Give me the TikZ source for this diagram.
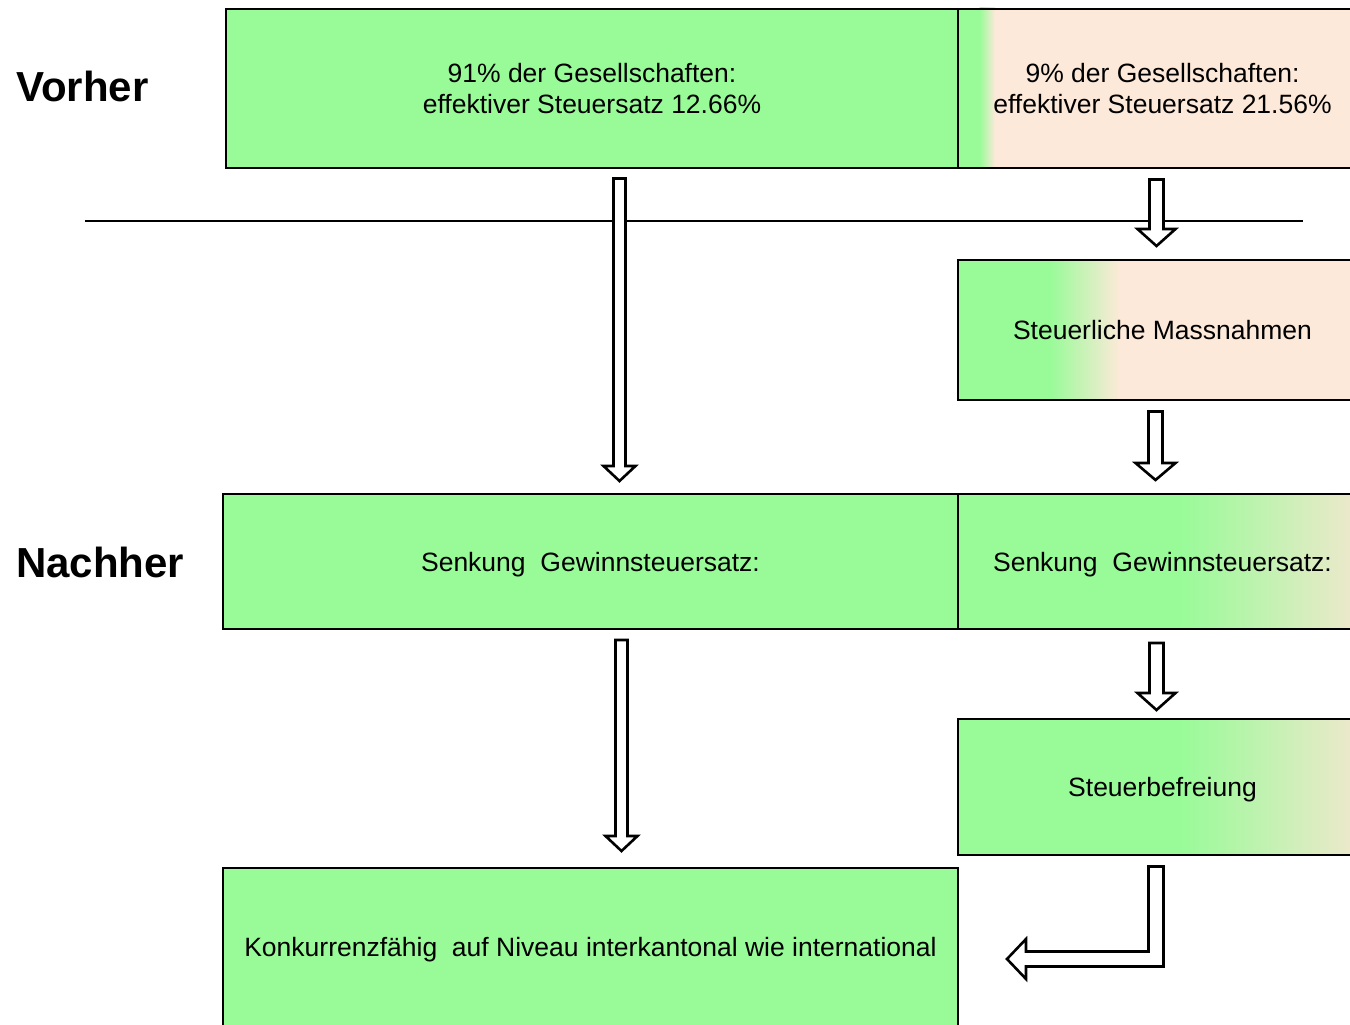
\documentclass[tikz,border=0pt]{standalone}
\usepackage{fontspec}
\setmainfont{Liberation Sans}
\usetikzlibrary{calc}
\definecolor{pgreen}{RGB}{152,251,152}
\definecolor{peach}{RGB}{253,233,217}
\definecolor{beige}{RGB}{243,231,207}
\newcommand\blockdown[5]{% start, tip, shaft half, head half, head length
  \draw[blockarrow] ($(#1)+(-#3,0)$) -- ($(#1)+(#3,0)$) -- ($(#2)+(#3,-#5)$) -- ($(#2)+(#4,-#5)$) -- (#2)
    -- ($(#2)+(-#4,-#5)$) -- ($(#2)+(-#3,-#5)$) -- cycle;}
\begin{document}
\begin{tikzpicture}[x=1pt,y=-1pt,
  box/.style={draw=black, line width=2pt, anchor=north west, inner sep=0pt,
    font=\fontsize{26.5}{31}\selectfont, align=center},
  oneline/.style={text depth=0pt},
  blockarrow/.style={draw=black, fill=white, line width=2.6pt, line join=miter},
  sidelabel/.style={font=\fontsize{42}{48}\selectfont\bfseries, anchor=base west, inner sep=0pt}]
\useasboundingbox (0,0) rectangle (1350,1025);
\fill[white] (0,0) rectangle (1350,1025);

% backgrounds
\fill[pgreen] (225,8) rectangle (957,167);
\fill[pgreen] (957,8) rectangle (980,167);
\shade[left color=pgreen, right color=peach] (979.5,8) rectangle (995,167);
\fill[peach] (994.5,8) rectangle (1366,167);

\fill[pgreen] (957,259) rectangle (1050,399);
\shade[left color=pgreen, right color=peach] (1049.5,259) rectangle (1120,399);
\fill[peach] (1119.5,259) rectangle (1366,399);

\fill[pgreen] (222,493) rectangle (957,628);
\fill[pgreen] (957,493) rectangle (1180,628);
\shade[left color=pgreen, right color=beige] (1179.5,493) rectangle (1366,628);

\fill[pgreen] (957,718) rectangle (1180,854);
\shade[left color=pgreen, right color=beige] (1179.5,718) rectangle (1366,854);

\fill[pgreen] (222,867) rectangle (957,1030);

% divider line
\coordinate (l1) at (85,221);
\coordinate (l2) at (1303,221);
\draw[line width=2.5pt] (l1) -- (l2);

% boxes
\node[box, minimum width=732pt, minimum height=159pt] (v1) at (225,8)
  {91\% der Gesellschaften:\\effektiver Steuersatz 12.66\%};
\node[box, minimum width=409pt, minimum height=159pt] (v2) at (957,8)
  {9\% der Gesellschaften:\\effektiver Steuersatz 21.56\%};
\node[box, minimum width=409pt, minimum height=140pt] (m) at (957,259)
  {Steuerliche Massnahmen};
\node[box, oneline, minimum width=735pt, minimum height=135pt] (n1) at (222,493)
  {Senkung\ \ Gewinnsteuersatz:};
\node[box, oneline, minimum width=409pt, minimum height=135pt] (n2) at (957,493)
  {Senkung\ \ Gewinnsteuersatz:};
\node[box, oneline, minimum width=409pt, minimum height=136pt] (sb) at (957,718)
  {Steuerbefreiung};
\node[box, minimum width=735pt, minimum height=163pt] (k) at (222,867)
  {Konkurrenzfähig\ \ auf Niveau interkantonal wie international};

% side labels
\node[sidelabel] (vorher) at (16,102) {Vorher};
\node[sidelabel] (nachher) at (16,577) {Nachher};

% block arrows
\coordinate (a1s) at (619.5,178.5); \coordinate (a1e) at (619.5,481);
\coordinate (a2s) at (1156.5,179.5); \coordinate (a2e) at (1156.5,246);
\coordinate (a3s) at (1155.5,411.5); \coordinate (a3e) at (1155.5,480);
\coordinate (a4s) at (621.5,640); \coordinate (a4e) at (621.5,851);
\coordinate (a5s) at (1156.5,643); \coordinate (a5e) at (1156.5,710);
\blockdown{a1s}{a1e}{6}{16}{15}
\blockdown{a2s}{a2e}{7}{19}{17}
\blockdown{a3s}{a3e}{7}{20}{17}
\blockdown{a4s}{a4e}{6}{16}{15}
\blockdown{a5s}{a5e}{7}{19}{17}

% bent arrow
\coordinate (bs) at (1156,866.5);
\coordinate (bt) at (1007,959);
\draw[blockarrow] ($(bs)+(-7.5,0)$) -- ($(bs)+(7.5,0)$) -- (1163.5,966.5) -- (1026,966.5) -- (1026,979)
  -- (bt) -- (1026,939) -- (1026,951.5) -- (1148.5,951.5) -- cycle;
\end{tikzpicture}
\end{document}
